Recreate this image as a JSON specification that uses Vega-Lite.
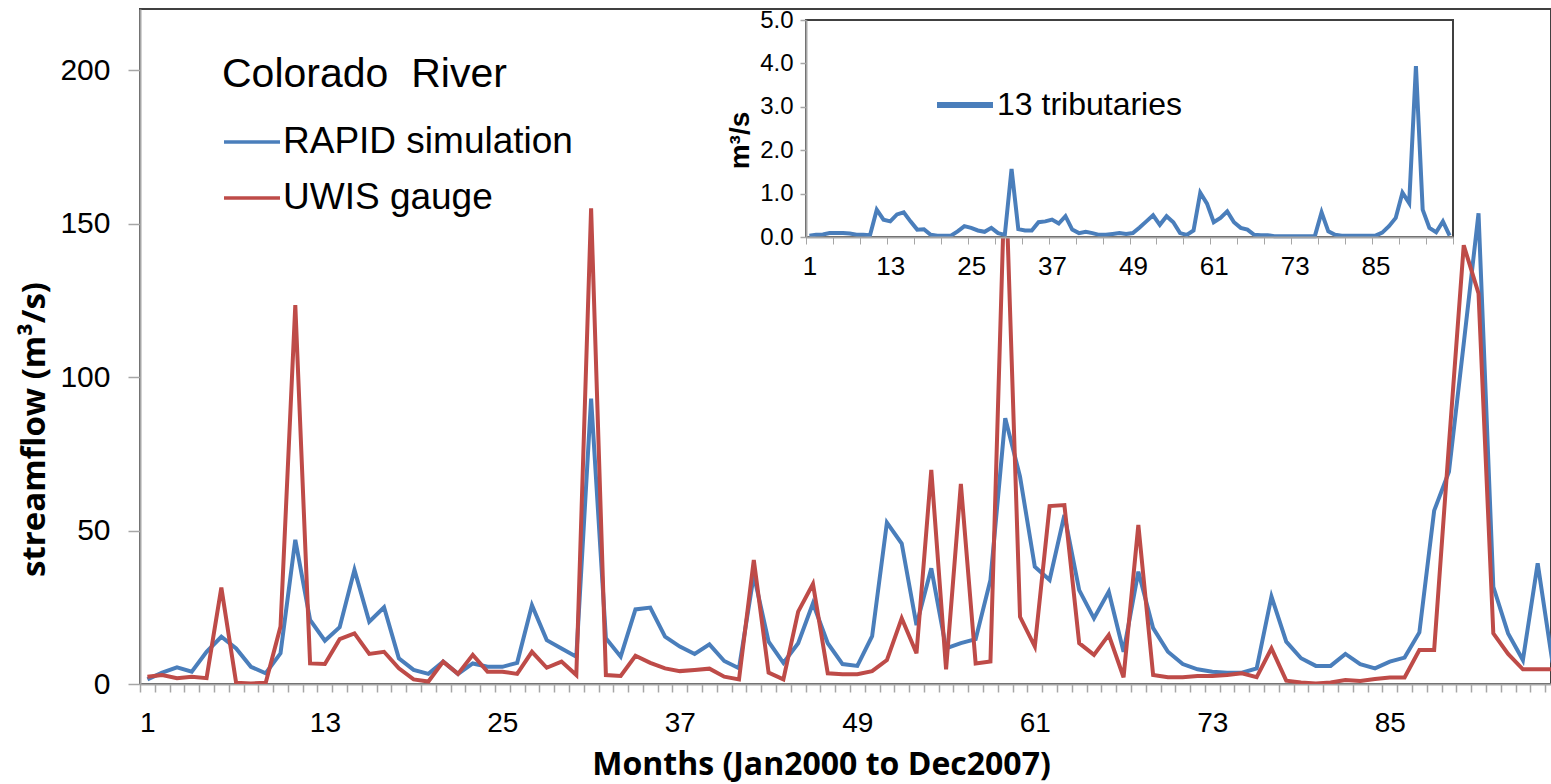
{
  "$schema": "https://vega.github.io/schema/vega-lite/v6.json",
  "width": 1411,
  "height": 675,
  "autosize": {"type": "none"},
  "padding": {"left": 140, "top": 9, "right": 0, "bottom": 100},
  "background": "white",
  "config": {
    "view": {"stroke": "#404040", "strokeWidth": 2},
    "font": "Liberation Sans",
    "axis": {"labelFont": "Liberation Sans", "labelColor": "black", "grid": false, "domainColor": "#a6a6a6", "tickColor": "#a6a6a6", "domainWidth": 2, "tickWidth": 1.5, "titleColor": "black"},
    "legend": {"padding": 0, "labelLimit": 0, "titleLimit": 0}
  },
  "datasets": {
    "main": [
      {"month":1,"series":"RAPID simulation","flow":1.5},{"month":2,"series":"RAPID simulation","flow":3.7},{"month":3,"series":"RAPID simulation","flow":5.4},{"month":4,"series":"RAPID simulation","flow":4.0},{"month":5,"series":"RAPID simulation","flow":10.5},{"month":6,"series":"RAPID simulation","flow":15.4},{"month":7,"series":"RAPID simulation","flow":11.6},{"month":8,"series":"RAPID simulation","flow":5.6},{"month":9,"series":"RAPID simulation","flow":3.5},{"month":10,"series":"RAPID simulation","flow":10},{"month":11,"series":"RAPID simulation","flow":47},{"month":12,"series":"RAPID simulation","flow":20.9},
      {"month":13,"series":"RAPID simulation","flow":14.1},{"month":14,"series":"RAPID simulation","flow":18.5},{"month":15,"series":"RAPID simulation","flow":37.2},{"month":16,"series":"RAPID simulation","flow":20.3},{"month":17,"series":"RAPID simulation","flow":25},{"month":18,"series":"RAPID simulation","flow":8.4},{"month":19,"series":"RAPID simulation","flow":4.6},{"month":20,"series":"RAPID simulation","flow":3.3},{"month":21,"series":"RAPID simulation","flow":7.3},{"month":22,"series":"RAPID simulation","flow":3.3},{"month":23,"series":"RAPID simulation","flow":6.7},{"month":24,"series":"RAPID simulation","flow":5.6},
      {"month":25,"series":"RAPID simulation","flow":5.6},{"month":26,"series":"RAPID simulation","flow":6.9},{"month":27,"series":"RAPID simulation","flow":25.7},{"month":28,"series":"RAPID simulation","flow":14.3},{"month":29,"series":"RAPID simulation","flow":11.6},{"month":30,"series":"RAPID simulation","flow":8.9},{"month":31,"series":"RAPID simulation","flow":93},{"month":32,"series":"RAPID simulation","flow":14.9},{"month":33,"series":"RAPID simulation","flow":8.9},{"month":34,"series":"RAPID simulation","flow":24.3},{"month":35,"series":"RAPID simulation","flow":24.9},{"month":36,"series":"RAPID simulation","flow":15.4},
      {"month":37,"series":"RAPID simulation","flow":12.2},{"month":38,"series":"RAPID simulation","flow":9.8},{"month":39,"series":"RAPID simulation","flow":12.9},{"month":40,"series":"RAPID simulation","flow":7.5},{"month":41,"series":"RAPID simulation","flow":5.1},{"month":42,"series":"RAPID simulation","flow":35.5},{"month":43,"series":"RAPID simulation","flow":13.8},{"month":44,"series":"RAPID simulation","flow":6.9},{"month":45,"series":"RAPID simulation","flow":13.3},{"month":46,"series":"RAPID simulation","flow":26.3},{"month":47,"series":"RAPID simulation","flow":13.3},{"month":48,"series":"RAPID simulation","flow":6.5},
      {"month":49,"series":"RAPID simulation","flow":5.9},{"month":50,"series":"RAPID simulation","flow":15.6},{"month":51,"series":"RAPID simulation","flow":52.6},{"month":52,"series":"RAPID simulation","flow":45.8},{"month":53,"series":"RAPID simulation","flow":19.2},{"month":54,"series":"RAPID simulation","flow":37.7},{"month":55,"series":"RAPID simulation","flow":11.6},{"month":56,"series":"RAPID simulation","flow":13.3},{"month":57,"series":"RAPID simulation","flow":14.6},{"month":58,"series":"RAPID simulation","flow":33.9},{"month":59,"series":"RAPID simulation","flow":86.6},{"month":60,"series":"RAPID simulation","flow":67.6},
      {"month":61,"series":"RAPID simulation","flow":38.2},{"month":62,"series":"RAPID simulation","flow":33.9},{"month":63,"series":"RAPID simulation","flow":55.1},{"month":64,"series":"RAPID simulation","flow":30.6},{"month":65,"series":"RAPID simulation","flow":21.4},{"month":66,"series":"RAPID simulation","flow":30.1},{"month":67,"series":"RAPID simulation","flow":10.5},{"month":68,"series":"RAPID simulation","flow":36.6},{"month":69,"series":"RAPID simulation","flow":18.2},{"month":70,"series":"RAPID simulation","flow":10.5},{"month":71,"series":"RAPID simulation","flow":6.5},{"month":72,"series":"RAPID simulation","flow":4.8},
      {"month":73,"series":"RAPID simulation","flow":4.0},{"month":74,"series":"RAPID simulation","flow":3.7},{"month":75,"series":"RAPID simulation","flow":3.7},{"month":76,"series":"RAPID simulation","flow":5.1},{"month":77,"series":"RAPID simulation","flow":28.5},{"month":78,"series":"RAPID simulation","flow":13.8},{"month":79,"series":"RAPID simulation","flow":8.4},{"month":80,"series":"RAPID simulation","flow":5.9},{"month":81,"series":"RAPID simulation","flow":5.9},{"month":82,"series":"RAPID simulation","flow":9.8},{"month":83,"series":"RAPID simulation","flow":6.5},{"month":84,"series":"RAPID simulation","flow":5.1},
      {"month":85,"series":"RAPID simulation","flow":7.3},{"month":86,"series":"RAPID simulation","flow":8.6},{"month":87,"series":"RAPID simulation","flow":16.8},{"month":88,"series":"RAPID simulation","flow":56.5},{"month":89,"series":"RAPID simulation","flow":69.2},{"month":90,"series":"RAPID simulation","flow":111},{"month":91,"series":"RAPID simulation","flow":153.4},{"month":92,"series":"RAPID simulation","flow":31.7},{"month":93,"series":"RAPID simulation","flow":16.5},{"month":94,"series":"RAPID simulation","flow":7.8},{"month":95,"series":"RAPID simulation","flow":39.3},{"month":96,"series":"RAPID simulation","flow":7},
      {"month":1,"series":"UWIS gauge","flow":2.4},{"month":2,"series":"UWIS gauge","flow":2.9},{"month":3,"series":"UWIS gauge","flow":1.9},{"month":4,"series":"UWIS gauge","flow":2.4},{"month":5,"series":"UWIS gauge","flow":1.9},{"month":6,"series":"UWIS gauge","flow":31.4},{"month":7,"series":"UWIS gauge","flow":0.4},{"month":8,"series":"UWIS gauge","flow":0.2},{"month":9,"series":"UWIS gauge","flow":0.4},{"month":10,"series":"UWIS gauge","flow":18.7},{"month":11,"series":"UWIS gauge","flow":123.5},{"month":12,"series":"UWIS gauge","flow":6.7},
      {"month":13,"series":"UWIS gauge","flow":6.5},{"month":14,"series":"UWIS gauge","flow":14.6},{"month":15,"series":"UWIS gauge","flow":16.5},{"month":16,"series":"UWIS gauge","flow":9.8},{"month":17,"series":"UWIS gauge","flow":10.5},{"month":18,"series":"UWIS gauge","flow":5.1},{"month":19,"series":"UWIS gauge","flow":1.5},{"month":20,"series":"UWIS gauge","flow":0.8},{"month":21,"series":"UWIS gauge","flow":7.3},{"month":22,"series":"UWIS gauge","flow":3.3},{"month":23,"series":"UWIS gauge","flow":9.5},{"month":24,"series":"UWIS gauge","flow":4.0},
      {"month":25,"series":"UWIS gauge","flow":4.0},{"month":26,"series":"UWIS gauge","flow":3.3},{"month":27,"series":"UWIS gauge","flow":10.5},{"month":28,"series":"UWIS gauge","flow":5.3},{"month":29,"series":"UWIS gauge","flow":7.3},{"month":30,"series":"UWIS gauge","flow":2.9},{"month":31,"series":"UWIS gauge","flow":155},{"month":32,"series":"UWIS gauge","flow":2.9},{"month":33,"series":"UWIS gauge","flow":2.6},{"month":34,"series":"UWIS gauge","flow":9.2},{"month":35,"series":"UWIS gauge","flow":6.9},{"month":36,"series":"UWIS gauge","flow":5.1},
      {"month":37,"series":"UWIS gauge","flow":4.2},{"month":38,"series":"UWIS gauge","flow":4.6},{"month":39,"series":"UWIS gauge","flow":5.0},{"month":40,"series":"UWIS gauge","flow":2.4},{"month":41,"series":"UWIS gauge","flow":1.5},{"month":42,"series":"UWIS gauge","flow":40.4},{"month":43,"series":"UWIS gauge","flow":3.7},{"month":44,"series":"UWIS gauge","flow":1.5},{"month":45,"series":"UWIS gauge","flow":23.6},{"month":46,"series":"UWIS gauge","flow":32.6},{"month":47,"series":"UWIS gauge","flow":3.5},{"month":48,"series":"UWIS gauge","flow":3.2},
      {"month":49,"series":"UWIS gauge","flow":3.2},{"month":50,"series":"UWIS gauge","flow":4.2},{"month":51,"series":"UWIS gauge","flow":7.8},{"month":52,"series":"UWIS gauge","flow":21.4},{"month":53,"series":"UWIS gauge","flow":10},{"month":54,"series":"UWIS gauge","flow":69.8},{"month":55,"series":"UWIS gauge","flow":4.8},{"month":56,"series":"UWIS gauge","flow":65.2},{"month":57,"series":"UWIS gauge","flow":6.7},{"month":58,"series":"UWIS gauge","flow":7.3},{"month":59,"series":"UWIS gauge","flow":170},{"month":60,"series":"UWIS gauge","flow":21.9},
      {"month":61,"series":"UWIS gauge","flow":12.2},{"month":62,"series":"UWIS gauge","flow":58},{"month":63,"series":"UWIS gauge","flow":58.3},{"month":64,"series":"UWIS gauge","flow":13.3},{"month":65,"series":"UWIS gauge","flow":9.5},{"month":66,"series":"UWIS gauge","flow":16},{"month":67,"series":"UWIS gauge","flow":2.2},{"month":68,"series":"UWIS gauge","flow":51.8},{"month":69,"series":"UWIS gauge","flow":2.9},{"month":70,"series":"UWIS gauge","flow":2.2},{"month":71,"series":"UWIS gauge","flow":2.2},{"month":72,"series":"UWIS gauge","flow":2.6},
      {"month":73,"series":"UWIS gauge","flow":2.6},{"month":74,"series":"UWIS gauge","flow":2.9},{"month":75,"series":"UWIS gauge","flow":3.5},{"month":76,"series":"UWIS gauge","flow":2.2},{"month":77,"series":"UWIS gauge","flow":11.6},{"month":78,"series":"UWIS gauge","flow":1.1},{"month":79,"series":"UWIS gauge","flow":0.5},{"month":80,"series":"UWIS gauge","flow":0.2},{"month":81,"series":"UWIS gauge","flow":0.5},{"month":82,"series":"UWIS gauge","flow":1.3},{"month":83,"series":"UWIS gauge","flow":1.0},{"month":84,"series":"UWIS gauge","flow":1.6},
      {"month":85,"series":"UWIS gauge","flow":2.1},{"month":86,"series":"UWIS gauge","flow":2.1},{"month":87,"series":"UWIS gauge","flow":11.1},{"month":88,"series":"UWIS gauge","flow":11.1},{"month":89,"series":"UWIS gauge","flow":78},{"month":90,"series":"UWIS gauge","flow":143},{"month":91,"series":"UWIS gauge","flow":127.3},{"month":92,"series":"UWIS gauge","flow":16.5},{"month":93,"series":"UWIS gauge","flow":9.8},{"month":94,"series":"UWIS gauge","flow":4.8},{"month":95,"series":"UWIS gauge","flow":4.8},{"month":96,"series":"UWIS gauge","flow":4.8}
    ],
    "trib": [
      {"month":1,"series":"13 tributaries","v":0.03},{"month":2,"series":"13 tributaries","v":0.05},{"month":3,"series":"13 tributaries","v":0.06},{"month":4,"series":"13 tributaries","v":0.09},{"month":5,"series":"13 tributaries","v":0.09},{"month":6,"series":"13 tributaries","v":0.09},{"month":7,"series":"13 tributaries","v":0.08},{"month":8,"series":"13 tributaries","v":0.05},{"month":9,"series":"13 tributaries","v":0.05},{"month":10,"series":"13 tributaries","v":0.04},{"month":11,"series":"13 tributaries","v":0.63},{"month":12,"series":"13 tributaries","v":0.4},
      {"month":13,"series":"13 tributaries","v":0.36},{"month":14,"series":"13 tributaries","v":0.52},{"month":15,"series":"13 tributaries","v":0.57},{"month":16,"series":"13 tributaries","v":0.36},{"month":17,"series":"13 tributaries","v":0.17},{"month":18,"series":"13 tributaries","v":0.18},{"month":19,"series":"13 tributaries","v":0.05},{"month":20,"series":"13 tributaries","v":0.03},{"month":21,"series":"13 tributaries","v":0.03},{"month":22,"series":"13 tributaries","v":0.03},{"month":23,"series":"13 tributaries","v":0.13},{"month":24,"series":"13 tributaries","v":0.25},
      {"month":25,"series":"13 tributaries","v":0.21},{"month":26,"series":"13 tributaries","v":0.15},{"month":27,"series":"13 tributaries","v":0.12},{"month":28,"series":"13 tributaries","v":0.21},{"month":29,"series":"13 tributaries","v":0.09},{"month":30,"series":"13 tributaries","v":0.05},{"month":31,"series":"13 tributaries","v":1.57},{"month":32,"series":"13 tributaries","v":0.18},{"month":33,"series":"13 tributaries","v":0.15},{"month":34,"series":"13 tributaries","v":0.15},{"month":35,"series":"13 tributaries","v":0.34},{"month":36,"series":"13 tributaries","v":0.36},
      {"month":37,"series":"13 tributaries","v":0.4},{"month":38,"series":"13 tributaries","v":0.31},{"month":39,"series":"13 tributaries","v":0.48},{"month":40,"series":"13 tributaries","v":0.17},{"month":41,"series":"13 tributaries","v":0.09},{"month":42,"series":"13 tributaries","v":0.12},{"month":43,"series":"13 tributaries","v":0.09},{"month":44,"series":"13 tributaries","v":0.05},{"month":45,"series":"13 tributaries","v":0.05},{"month":46,"series":"13 tributaries","v":0.07},{"month":47,"series":"13 tributaries","v":0.09},{"month":48,"series":"13 tributaries","v":0.07},
      {"month":49,"series":"13 tributaries","v":0.09},{"month":50,"series":"13 tributaries","v":0.22},{"month":51,"series":"13 tributaries","v":0.36},{"month":52,"series":"13 tributaries","v":0.5},{"month":53,"series":"13 tributaries","v":0.28},{"month":54,"series":"13 tributaries","v":0.48},{"month":55,"series":"13 tributaries","v":0.34},{"month":56,"series":"13 tributaries","v":0.09},{"month":57,"series":"13 tributaries","v":0.05},{"month":58,"series":"13 tributaries","v":0.15},{"month":59,"series":"13 tributaries","v":1.02},{"month":60,"series":"13 tributaries","v":0.77},
      {"month":61,"series":"13 tributaries","v":0.34},{"month":62,"series":"13 tributaries","v":0.44},{"month":63,"series":"13 tributaries","v":0.59},{"month":64,"series":"13 tributaries","v":0.34},{"month":65,"series":"13 tributaries","v":0.21},{"month":66,"series":"13 tributaries","v":0.17},{"month":67,"series":"13 tributaries","v":0.05},{"month":68,"series":"13 tributaries","v":0.04},{"month":69,"series":"13 tributaries","v":0.04},{"month":70,"series":"13 tributaries","v":0.02},{"month":71,"series":"13 tributaries","v":0.02},{"month":72,"series":"13 tributaries","v":0.02},
      {"month":73,"series":"13 tributaries","v":0.02},{"month":74,"series":"13 tributaries","v":0.02},{"month":75,"series":"13 tributaries","v":0.02},{"month":76,"series":"13 tributaries","v":0.02},{"month":77,"series":"13 tributaries","v":0.57},{"month":78,"series":"13 tributaries","v":0.13},{"month":79,"series":"13 tributaries","v":0.05},{"month":80,"series":"13 tributaries","v":0.03},{"month":81,"series":"13 tributaries","v":0.03},{"month":82,"series":"13 tributaries","v":0.03},{"month":83,"series":"13 tributaries","v":0.03},{"month":84,"series":"13 tributaries","v":0.03},
      {"month":85,"series":"13 tributaries","v":0.03},{"month":86,"series":"13 tributaries","v":0.1},{"month":87,"series":"13 tributaries","v":0.25},{"month":88,"series":"13 tributaries","v":0.44},{"month":89,"series":"13 tributaries","v":1.02},{"month":90,"series":"13 tributaries","v":0.78},{"month":91,"series":"13 tributaries","v":3.94},{"month":92,"series":"13 tributaries","v":0.63},{"month":93,"series":"13 tributaries","v":0.21},{"month":94,"series":"13 tributaries","v":0.11},{"month":95,"series":"13 tributaries","v":0.36},{"month":96,"series":"13 tributaries","v":0.03}
    ],
    "box": [{"month": 0.5, "month2": 96.5, "v": 0, "v2": 5}]
  },
  "layer": [
    {
      "data": {"name": "main"},
      "mark": {"type": "line", "strokeWidth": 4, "clip": true},
      "encoding": {
        "x": {
          "field": "month", "type": "quantitative",
          "scale": {"domain": [0.5, 95.9], "nice": false, "zero": false},
          "axis": {
            "orient": "bottom",
            "values": [0.5,1.5,2.5,3.5,4.5,5.5,6.5,7.5,8.5,9.5,10.5,11.5,12.5,13.5,14.5,15.5,16.5,17.5,18.5,19.5,20.5,21.5,22.5,23.5,24.5,25.5,26.5,27.5,28.5,29.5,30.5,31.5,32.5,33.5,34.5,35.5,36.5,37.5,38.5,39.5,40.5,41.5,42.5,43.5,44.5,45.5,46.5,47.5,48.5,49.5,50.5,51.5,52.5,53.5,54.5,55.5,56.5,57.5,58.5,59.5,60.5,61.5,62.5,63.5,64.5,65.5,66.5,67.5,68.5,69.5,70.5,71.5,72.5,73.5,74.5,75.5,76.5,77.5,78.5,79.5,80.5,81.5,82.5,83.5,84.5,85.5,86.5,87.5,88.5,89.5,90.5,91.5,92.5,93.5,94.5,95.5],
            "labelExpr": "(datum.value - 0.5) % 12 == 0 && datum.value < 90 ? format(datum.value + 0.5, 'd') : ''",
            "labelOffset": 7.4, "labelFlush": false, "labelOverlap": false,
            "tickSize": 8, "labelPadding": 17, "labelFontSize": 28,
            "title": "Months (Jan2000 to Dec2007)",
            "titleFont": "Open Sans", "titleFontWeight": "bold", "titleFontSize": 32,
            "titleX": 681, "titleY": 90, "titleBaseline": "alphabetic", "titleAlign": "center"
          }
        },
        "y": {
          "field": "flow", "type": "quantitative",
          "scale": {"domain": [0, 220], "nice": false},
          "axis": {
            "values": [0, 50, 100, 150, 200],
            "tickSize": 12, "labelPadding": 18, "labelFontSize": 30,
            "title": "streamflow (m³/s)",
            "titleFont": "Open Sans", "titleFontWeight": "bold", "titleFontSize": 33,
            "titleX": -106, "titleY": 420, "titleAngle": -90, "titleBaseline": "middle", "titleAlign": "center"
          }
        },
        "color": {
          "field": "series", "type": "nominal",
          "scale": {"domain": ["RAPID simulation", "UWIS gauge"], "range": ["#4a7ebb", "#be4b48"]},
          "legend": {
            "orient": "none", "legendX": 82, "legendY": 46,
            "title": "Colorado\u00a0 River", "titleFont": "Liberation Sans", "titleFontSize": 41, "titleFontWeight": "normal", "titleColor": "black", "titlePadding": 16,
            "symbolType": "stroke", "symbolStrokeWidth": 3.5, "symbolSize": 3136,
            "labelFont": "Liberation Sans", "labelFontSize": 37, "labelColor": "black", "labelOffset": 1, "rowPadding": 8
          }
        }
      }
    },
    {
      "layer": [
        {
          "data": {"name": "box"},
          "mark": {"type": "rect", "fill": "white", "stroke": "#404040", "strokeWidth": 2},
          "encoding": {
            "x": {"field": "month", "type": "quantitative", "scale": {"domain": [0.5, 96.5], "range": [666, 1313], "nice": false, "zero": false}},
            "x2": {"field": "month2"},
            "y": {"field": "v", "type": "quantitative", "scale": {"domain": [0, 5], "range": [228, 11], "nice": false}},
            "y2": {"field": "v2"}
          }
        },
        {
          "data": {"name": "trib"},
          "mark": {"type": "line", "strokeWidth": 4},
          "encoding": {
            "x": {
              "field": "month", "type": "quantitative",
              "scale": {"domain": [0.5, 96.5], "range": [666, 1313], "nice": false, "zero": false},
              "axis": {
                "orient": "bottom", "offset": -447, "zindex": 1,
                "values": [0.5,1.5,2.5,3.5,4.5,5.5,6.5,7.5,8.5,9.5,10.5,11.5,12.5,13.5,14.5,15.5,16.5,17.5,18.5,19.5,20.5,21.5,22.5,23.5,24.5,25.5,26.5,27.5,28.5,29.5,30.5,31.5,32.5,33.5,34.5,35.5,36.5,37.5,38.5,39.5,40.5,41.5,42.5,43.5,44.5,45.5,46.5,47.5,48.5,49.5,50.5,51.5,52.5,53.5,54.5,55.5,56.5,57.5,58.5,59.5,60.5,61.5,62.5,63.5,64.5,65.5,66.5,67.5,68.5,69.5,70.5,71.5,72.5,73.5,74.5,75.5,76.5,77.5,78.5,79.5,80.5,81.5,82.5,83.5,84.5,85.5,86.5,87.5,88.5,89.5,90.5,91.5,92.5,93.5,94.5,95.5,96.5],
                "labelExpr": "(datum.value - 0.5) % 12 == 0 && datum.value < 90 ? format(datum.value + 0.5, 'd') : ''",
                "labelOffset": 3.37, "labelFlush": false, "labelOverlap": false,
                "tickSize": 7, "tickWidth": 1, "labelPadding": 9, "labelFontSize": 26,
                "title": null
              }
            },
            "y": {
              "field": "v", "type": "quantitative",
              "scale": {"domain": [0, 5], "range": [228, 11], "nice": false},
              "axis": {
                "orient": "left", "offset": -666, "zindex": 1,
                "values": [0, 1, 2, 3, 4, 5], "format": ".1f",
                "tickSize": 6, "labelPadding": 7, "labelFontSize": 24,
                "title": "m³/s", "titleFont": "Liberation Sans", "titleFontWeight": "bold", "titleFontSize": 28,
                "titleX": -66, "titleY": 131, "titleAngle": -90, "titleBaseline": "middle", "titleAlign": "center"
              }
            },
            "color": {
              "field": "series", "type": "nominal",
              "scale": {"domain": ["13 tributaries"], "range": ["#4a7ebb"]},
              "legend": {
                "orient": "none", "legendX": 794, "legendY": 65, "title": null,
                "symbolType": "stroke", "symbolStrokeWidth": 6, "symbolSize": 3136,
                "labelFont": "Liberation Sans", "labelFontSize": 32, "labelColor": "black", "labelOffset": 1
              }
            }
          }
        }
      ]
    }
  ],
  "resolve": {"scale": {"x": "independent", "y": "independent", "color": "independent"}}
}
